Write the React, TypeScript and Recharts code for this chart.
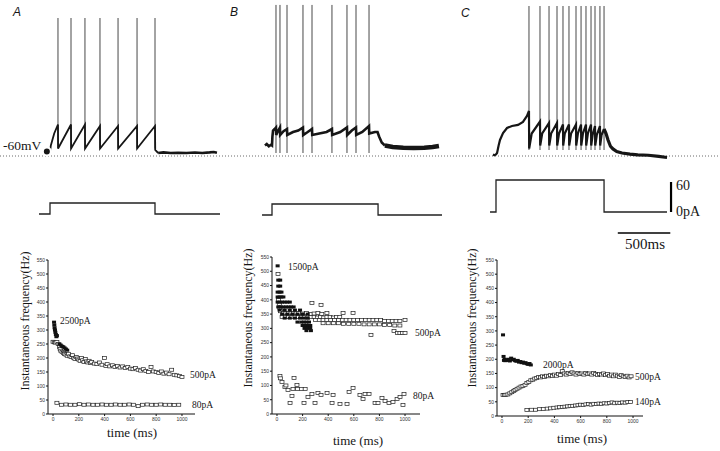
import React from "react";
import { LineChart, Line, XAxis, YAxis, ReferenceLine, ScatterChart, Scatter } from "recharts";

type P = [number, number];

// ---------------- DATA ----------------
const PANEL_LETTERS = ["A", "B", "C"];
const RESTING_LABEL = "-60mV";
const RESTING_MV = -60;

// Membrane potential traces: [time from step onset (ms), mV]
const A_TRACE: P[] = [
  [-30, -57], [-20, -57.5], [-5, -58], [0, -57.5], [8, -53], [20, -50], [40, -45], [76, -39],
  [77, -55], [200, -39], [201, -55], [333, -39], [334, -55], [476, -40], [477, -55], [648, -40],
  [649, -55], [829, -40], [830, -55], [1000, -40], [1002, -56], [1030, -58],
];
const A_TAIL: P[] = [
  [1030, -58], [1080, -57.6], [1150, -58], [1220, -57.8], [1300, -58], [1380, -57.7],
  [1450, -58], [1520, -57.6], [1560, -57.3], [1590, -57.8],
];
const A_SPIKE_TIMES = [76, 200, 333, 476, 648, 829, 1000];
const A_SPIKE_RANGE: P = [-55, 32];

const B_TRACE: P[] = [
  [-67, -53], [-50, -52], [-30, -53.5], [-10, -52.5], [0, -53], [4, -47], [10, -43], [25, -42], [38, -41],
  [40, -46], [60, -43], [76, -41], [78, -46], [110, -43.5], [143, -42], [145, -46], [200, -44],
  [250, -43], [295, -41], [297, -46], [340, -44], [381, -42], [383, -46], [450, -45], [520, -44],
  [571, -42], [573, -46], [650, -44], [714, -41], [716, -46], [760, -43], [800, -41], [802, -46],
  [860, -44], [924, -40], [926, -45], [980, -44], [1005, -44], [1020, -47], [1045, -51], [1075, -53],
];
const B_TAIL: P[] = [
  [1075, -53], [1150, -54], [1250, -54.5], [1350, -54.7], [1450, -54.5], [1530, -54], [1590, -53.3],
];
const B_SPIKE_TIMES = [38, 76, 143, 295, 381, 571, 714, 800, 924];
const B_SPIKE_RANGE: P = [-58, 40.7];

const C_TRACE: P[] = [
  [-29, -59], [-15, -59.5], [0, -59], [10, -58], [25, -53], [38, -49.3], [67, -44.7], [105, -41.3],
  [152, -40], [210, -39.3], [257, -37.3], [295, -33.3], [314, -30],
  [316, -55], [340, -45], [419, -37], [421, -53], [440, -45], [505, -38], [507, -53], [525, -45],
  [581, -38], [583, -53], [600, -45], [638, -39], [640, -53], [655, -45], [695, -39], [697, -53],
  [715, -45], [762, -39], [764, -53], [780, -45], [810, -39], [812, -53], [828, -45], [857, -39],
  [859, -53], [875, -45], [905, -39], [907, -53], [920, -46], [943, -40], [945, -53], [960, -46],
  [990, -40], [992, -53], [1005, -46], [1029, -42],
];
const C_TAIL: P[] = [
  [1029, -42], [1048, -45], [1067, -49.3], [1090, -53.5], [1114, -55.3], [1150, -57], [1200, -58],
  [1276, -58.7], [1350, -59.2], [1450, -59.5], [1550, -60.3], [1629, -61],
];
const C_SPIKE_TIMES = [314, 419, 505, 581, 638, 695, 762, 810, 857, 905, 943, 990, 1029];
const C_SPIKE_RANGE: P = [-56, 40];

// Injected current: [time (ms), pA]
const A_CURRENT: P[] = [[-105, 0], [0, 0], [0, 22], [1000, 22], [1000, 0], [1619, 0]];
const B_CURRENT: P[] = [[-95, 0], [0, 0], [0, 22], [1010, 22], [1010, 0], [1619, 0]];
const C_CURRENT: P[] = [[-57, 0], [0, 0], [0, 64], [1029, 64], [1029, 0], [1629, 0]];
const SCALE_PA = 60;
const SCALE_MS = 500;
const SCALE_LABELS = ["60", "0pA", "500ms"];

// Instantaneous frequency: [time (ms), Hz]
const A_2500: P[] = [
  [8, 328], [10, 318], [12, 308], [15, 300], [18, 292], [22, 284], [26, 276], [30, 280], [50, 250],
  [60, 246], [70, 242], [80, 240], [90, 236], [100, 232], [110, 228],
];
const A_500: P[] = [
  [0, 258], [10, 256], [20, 255], [30, 257], [40, 250], [50, 240], [55, 232], [60, 226], [70, 222],
  [80, 218], [90, 214], [100, 212], [110, 208], [120, 215], [130, 206], [140, 204], [150, 210],
  [160, 200], [170, 196], [180, 204], [190, 198], [200, 194], [210, 190], [220, 200], [230, 192],
  [240, 186], [250, 196], [260, 188], [270, 184], [280, 190], [290, 182], [300, 186], [320, 180],
  [340, 178], [360, 184], [380, 176], [400, 200], [410, 172], [420, 178], [440, 170], [460, 174],
  [480, 168], [500, 172], [520, 166], [540, 170], [560, 164], [580, 168], [600, 162], [620, 160],
  [640, 164], [660, 158], [680, 155], [700, 160], [720, 154], [740, 150], [760, 168], [780, 152],
  [800, 150], [820, 146], [840, 152], [860, 144], [880, 148], [900, 142], [920, 158], [940, 140],
  [960, 138], [980, 136], [1000, 132],
];
const A_80: P[] = [
  [30, 40], [65, 33], [100, 34], [135, 33], [170, 33], [205, 35], [240, 33], [275, 34], [310, 33],
  [345, 33], [380, 34], [415, 33], [450, 33], [485, 34], [520, 33], [555, 33], [590, 34], [625, 33],
  [660, 28], [695, 33], [730, 34], [765, 33], [800, 33], [835, 34], [870, 33], [905, 33], [940, 32],
  [975, 33],
];

const B_1500: P[] = [
  [5, 519], [10, 469], [25, 469], [10, 448], [25, 448], [5, 427], [20, 427], [35, 427], [5, 410],
  [20, 410], [35, 410], [50, 410], [5, 392], [20, 392], [40, 392], [60, 392], [80, 392], [100, 392],
  [10, 375], [30, 375], [50, 375], [70, 375], [90, 375], [110, 375], [130, 375], [20, 364], [60, 364],
  [100, 364], [140, 364], [180, 364], [40, 350], [80, 350], [120, 350], [160, 350], [200, 350],
  [240, 350], [60, 336], [100, 336], [140, 336], [180, 336], [210, 336], [240, 336], [160, 322],
  [190, 322], [210, 322], [230, 322], [250, 322], [200, 310], [215, 310], [230, 310], [245, 310],
  [260, 310], [215, 300], [235, 300], [260, 300], [230, 292], [265, 292],
];
const B_500: P[] = [
  [8, 490], [12, 400], [18, 385], [22, 372], [28, 360],
  [50, 354], [70, 354], [90, 354], [110, 354], [130, 354], [150, 354], [170, 354], [200, 352],
  [230, 354], [260, 350], [290, 352], [320, 354], [350, 350], [390, 354], [516, 354], [594, 354],
  [40, 340], [65, 340], [90, 340], [115, 340], [140, 340], [165, 340], [190, 340], [215, 340],
  [240, 338], [265, 340], [290, 340], [315, 338], [340, 340], [365, 338], [390, 340], [415, 340],
  [440, 338], [465, 340], [490, 340], [273, 389], [344, 382],
  [300, 329], [330, 329], [360, 329], [390, 329], [420, 329], [450, 329], [480, 329], [510, 329],
  [540, 329], [570, 329], [600, 329], [630, 329], [660, 329], [690, 329], [720, 329], [750, 329],
  [780, 329], [810, 329], [840, 326], [870, 326], [900, 326], [930, 326], [960, 326], [1000, 329],
  [360, 318], [400, 318], [440, 318], [480, 318], [520, 316], [560, 316], [600, 316], [640, 316],
  [680, 314], [720, 314], [760, 314], [800, 314], [840, 312], [880, 312], [920, 310], [960, 310],
  [734, 277], [914, 291], [940, 284], [960, 284], [980, 284], [1000, 284],
];
const B_80: P[] = [
  [23, 133], [26, 125], [39, 112], [62, 95], [70, 100], [86, 84], [102, 39], [117, 63], [125, 88],
  [133, 126], [156, 102], [160, 88], [190, 88], [211, 39], [220, 88], [242, 60], [273, 70], [297, 39],
  [320, 74], [344, 67], [391, 74], [430, 39], [438, 67], [492, 35], [547, 35], [563, 77], [594, 91],
  [648, 67], [672, 53], [688, 70], [719, 70], [766, 39], [789, 39], [820, 56], [844, 46], [875, 39],
  [906, 42], [938, 53], [961, 60], [984, 32], [992, 70],
];

const C_2000: P[] = [
  [8, 286], [12, 210], [15, 196], [20, 200], [25, 195], [30, 198], [40, 196], [50, 200], [60, 194],
  [70, 204], [80, 198], [90, 200], [100, 195], [110, 193], [120, 196], [130, 190], [140, 192],
  [150, 188], [160, 190], [170, 186], [180, 188], [190, 184], [200, 182], [210, 185], [220, 180],
];
const C_500: P[] = [
  [8, 74], [20, 74], [30, 75], [45, 76], [60, 80], [75, 84], [90, 88], [100, 92], [115, 96],
  [130, 100], [145, 104], [160, 106], [176, 110], [190, 116], [205, 120], [220, 126], [235, 128],
  [250, 132], [265, 134], [280, 138], [295, 136], [310, 140], [325, 138], [340, 142], [355, 140],
  [370, 144], [385, 141], [400, 146], [415, 142], [430, 148], [445, 144], [460, 158], [475, 150],
  [490, 146], [505, 152], [520, 148], [535, 154], [550, 150], [565, 146], [580, 152], [595, 148],
  [610, 150], [625, 146], [640, 152], [655, 148], [670, 150], [685, 146], [700, 152], [715, 148],
  [730, 144], [745, 148], [760, 146], [775, 150], [790, 144], [805, 148], [820, 142], [835, 146],
  [850, 140], [865, 146], [880, 142], [895, 138], [910, 144], [925, 140], [940, 138], [955, 142],
  [970, 136], [985, 140],
];
const C_140: P[] = [
  [190, 21], [225, 22], [255, 22], [285, 24], [315, 25], [345, 26], [370, 27], [395, 29], [420, 30],
  [440, 31], [460, 32], [480, 33], [500, 34], [520, 35], [540, 36], [560, 37], [580, 38], [600, 40],
  [620, 39], [640, 41], [660, 42], [680, 40], [700, 43], [720, 42], [740, 44], [760, 43], [780, 45],
  [800, 44], [820, 46], [840, 48], [860, 45], [880, 47], [900, 46], [920, 48], [940, 47], [960, 49],
  [980, 49],
];

const FREQ_TICKS = [0, 50, 100, 150, 200, 250, 300, 350, 400, 450, 500, 550];
const TIME_TICKS = [0, 200, 400, 600, 800, 1000];
const Y_TITLE = "Instantaneous frequency(Hz)";
const X_TITLE = "time (ms)";
const A_LABELS = ["2500pA", "500pA", "80pA"];
const B_LABELS = ["1500pA", "500pA", "80pA"];
const C_LABELS = ["2000pA", "500pA", "140pA"];

// ---------------- HELPERS ----------------
const tv = (arr: P[]) => arr.map(([t, v]) => ({ t, v }));
const spikes = (times: number[], range: P) =>
  times.flatMap((t) => [{ t, v: range[0] }, { t, v: range[1] }, { t, v: null as any }]);
const tf = (arr: P[]) => arr.map(([t, f]) => ({ t, f }));

const PX_PER_MS = 0.105;
const TOP_H = 171;
const V_DOMAIN: [number, number] = [-70, 44];
const CUR_H = 80;
const I_DOMAIN: [number, number] = [-60, 100];
const PW = 240;
const INK = "#161616";

const serif = "'Liberation Serif', 'Times New Roman', serif";

function Txt({ x, y, size, children, italic, sans, anchor }: any) {
  return (
    <div
      style={{
        position: "absolute",
        left: x,
        top: y,
        transform: anchor === "middle" ? "translate(-50%, -50%)" : "translate(0, -50%)",
        fontFamily: sans ? "'Liberation Sans', Arial, sans-serif" : serif,
        fontStyle: italic ? "italic" : "normal",
        fontSize: size,
        color: INK,
        whiteSpace: "nowrap",
        lineHeight: 1,
      }}
    >
      {children}
    </div>
  );
}

function VTxt({ x, y, size, children }: any) {
  return (
    <div
      style={{
        position: "absolute",
        left: x,
        top: y,
        transform: "translate(-50%, -50%) rotate(-90deg)",
        fontFamily: serif,
        fontSize: size,
        color: INK,
        whiteSpace: "nowrap",
        lineHeight: 1,
      }}
    >
      {children}
    </div>
  );
}

function TraceChart({ left, onset, trace, tail, spikeData, traceW, tailW }: any) {
  const lo = (left - onset) / PX_PER_MS;
  const hi = (left + PW - onset) / PX_PER_MS;
  return (
    <div style={{ position: "absolute", left, top: 0 }}>
      <LineChart width={PW} height={TOP_H} margin={{ top: 0, right: 0, bottom: 0, left: 0 }}>
        <XAxis type="number" dataKey="t" domain={[lo, hi]} hide allowDataOverflow />
        <YAxis type="number" domain={V_DOMAIN} hide allowDataOverflow />
        <ReferenceLine y={RESTING_MV} stroke="#6a6a6a" strokeDasharray="1 2" strokeWidth={1} />
        <Line data={spikeData} dataKey="v" type="linear" stroke="#333" strokeWidth={0.9} dot={false} isAnimationActive={false} />
        <Line data={trace} dataKey="v" type="linear" stroke={INK} strokeWidth={traceW} dot={false} isAnimationActive={false} />
        <Line data={tail} dataKey="v" type="linear" stroke={INK} strokeWidth={tailW} dot={false} isAnimationActive={false} />
      </LineChart>
    </div>
  );
}

function CurrentChart({ left, onset, top, data, scale }: any) {
  const lo = (left - onset) / PX_PER_MS;
  const hi = (left + PW - onset) / PX_PER_MS;
  return (
    <div style={{ position: "absolute", left, top }}>
      <LineChart width={PW} height={CUR_H} margin={{ top: 0, right: 0, bottom: 0, left: 0 }}>
        <XAxis type="number" dataKey="t" domain={[lo, hi]} hide allowDataOverflow />
        <YAxis type="number" domain={I_DOMAIN} hide allowDataOverflow />
        <Line data={data} dataKey="i" type="linear" stroke="#222" strokeWidth={1.3} dot={false} isAnimationActive={false} />
        {scale && (
          <ReferenceLine
            segment={[{ x: 1667, y: 0 }, { x: 1667, y: SCALE_PA }]}
            stroke="#000"
            strokeWidth={2.2}
            ifOverflow="visible"
          />
        )}
        {scale && (
          <ReferenceLine
            segment={[{ x: 1160, y: -42 }, { x: 1160 + SCALE_MS, y: -42 }]}
            stroke="#000"
            strokeWidth={1.3}
            ifOverflow="visible"
          />
        )}
      </LineChart>
    </div>
  );
}

const openSq = (p: any) => (
  <rect x={p.cx - 2} y={p.cy - 1.5} width={4} height={3} fill="#fff" stroke="#222" strokeWidth={0.7} />
);
const fillSq = (p: any) => <rect x={p.cx - 2} y={p.cy - 1.5} width={4} height={3} fill="#111" />;

function FreqChart({ left, plotL, plotR, plotT, plotB, xDomain, open, filled }: any) {
  const TOP = 240;
  const H = 211;
  const YW = 16;
  const XH = 14;
  const margin = {
    top: plotT - TOP,
    left: plotL - left - YW,
    right: left + PW - plotR,
    bottom: H - (plotB - TOP) - XH,
  };
  const tick = { fontSize: 5, fill: "#333", fontFamily: "'Liberation Sans', Arial, sans-serif" };
  return (
    <div style={{ position: "absolute", left, top: TOP }}>
      <ScatterChart width={PW} height={H} margin={margin}>
        <XAxis
          type="number"
          dataKey="t"
          domain={xDomain}
          ticks={TIME_TICKS}
          allowDataOverflow
          height={XH}
          tick={tick}
          tickSize={2}
          tickMargin={1}
          stroke="#111"
          interval={0}
        />
        <YAxis
          type="number"
          dataKey="f"
          domain={[0, 550]}
          ticks={FREQ_TICKS}
          allowDataOverflow
          width={YW}
          tick={tick}
          tickSize={2}
          tickMargin={1}
          stroke="#111"
          interval={0}
        />
        {open.map((d: any, i: number) => (
          <Scatter key={"o" + i} data={d} shape={openSq} isAnimationActive={false} />
        ))}
        {filled.map((d: any, i: number) => (
          <Scatter key={"f" + i} data={d} shape={fillSq} isAnimationActive={false} />
        ))}
      </ScatterChart>
    </div>
  );
}

export default function App() {
  return (
    <div
      style={{
        position: "absolute",
        left: 0,
        top: 0,
        width: 720,
        height: 451,
        background: "#fff",
        overflow: "hidden",
      }}
    >
      {/* membrane potential traces */}
      <TraceChart left={0} onset={50} trace={tv(A_TRACE)} tail={tv(A_TAIL)} spikeData={spikes(A_SPIKE_TIMES, A_SPIKE_RANGE)} traceW={1.8} tailW={2.6} />
      <TraceChart left={240} onset={272} trace={tv(B_TRACE)} tail={tv(B_TAIL)} spikeData={spikes(B_SPIKE_TIMES, B_SPIKE_RANGE)} traceW={2.6} tailW={4.5} />
      <TraceChart left={480} onset={496} trace={tv(C_TRACE)} tail={tv(C_TAIL)} spikeData={spikes(C_SPIKE_TIMES, C_SPIKE_RANGE)} traceW={2.2} tailW={3.2} />

      {/* current steps */}
      <CurrentChart left={0} onset={50} top={164} data={A_CURRENT.map(([t, i]) => ({ t, i }))} />
      <CurrentChart left={240} onset={272} top={165} data={B_CURRENT.map(([t, i]) => ({ t, i }))} />
      <CurrentChart left={480} onset={496} top={162} data={C_CURRENT.map(([t, i]) => ({ t, i }))} scale />

      {/* frequency plots */}
      <FreqChart left={0} plotL={48} plotR={195} plotT={260} plotB={414} xDomain={[-39, 1101]} open={[tf(A_500), tf(A_80)]} filled={[tf(A_2500)]} />
      <FreqChart left={240} plotL={272} plotR={420} plotT={257} plotB={414} xDomain={[-39, 1117]} open={[tf(B_500), tf(B_80)]} filled={[tf(B_1500)]} />
      <FreqChart left={480} plotL={497} plotR={643} plotT={260} plotB={416} xDomain={[-38, 1076]} open={[tf(C_500), tf(C_140)]} filled={[tf(C_2000)]} />

      {/* text */}
      <Txt x={13} y={12} size={12} italic sans>{PANEL_LETTERS[0]}</Txt>
      <Txt x={230} y={12} size={12} italic sans>{PANEL_LETTERS[1]}</Txt>
      <Txt x={461} y={13} size={12} italic sans>{PANEL_LETTERS[2]}</Txt>
      <Txt x={3} y={146} size={13.5}>{RESTING_LABEL}</Txt>

      <Txt x={676} y={186} size={14}>{SCALE_LABELS[0]}</Txt>
      <Txt x={676} y={212} size={14}>{SCALE_LABELS[1]}</Txt>
      <Txt x={645} y={244} size={15} anchor="middle">{SCALE_LABELS[2]}</Txt>

      <VTxt x={25} y={321} size={12}>{Y_TITLE}</VTxt>
      <VTxt x={248} y={318} size={12}>{Y_TITLE}</VTxt>
      <VTxt x={472} y={318} size={12}>{Y_TITLE}</VTxt>
      <Txt x={132} y={432} size={13} anchor="middle">{X_TITLE}</Txt>
      <Txt x={358} y={440} size={13} anchor="middle">{X_TITLE}</Txt>
      <Txt x={582} y={438} size={13} anchor="middle">{X_TITLE}</Txt>

      <Txt x={60} y={322} size={9.5}>{A_LABELS[0]}</Txt>
      <Txt x={190} y={376} size={9.5}>{A_LABELS[1]}</Txt>
      <Txt x={192} y={406} size={9.5}>{A_LABELS[2]}</Txt>
      <Txt x={288} y={268} size={9.5}>{B_LABELS[0]}</Txt>
      <Txt x={415} y={334} size={9.5}>{B_LABELS[1]}</Txt>
      <Txt x={413} y={397} size={9.5}>{B_LABELS[2]}</Txt>
      <Txt x={543} y={366} size={9.5}>{C_LABELS[0]}</Txt>
      <Txt x={635} y={378} size={9.5}>{C_LABELS[1]}</Txt>
      <Txt x={635} y={403} size={9.5}>{C_LABELS[2]}</Txt>
    </div>
  );
}
